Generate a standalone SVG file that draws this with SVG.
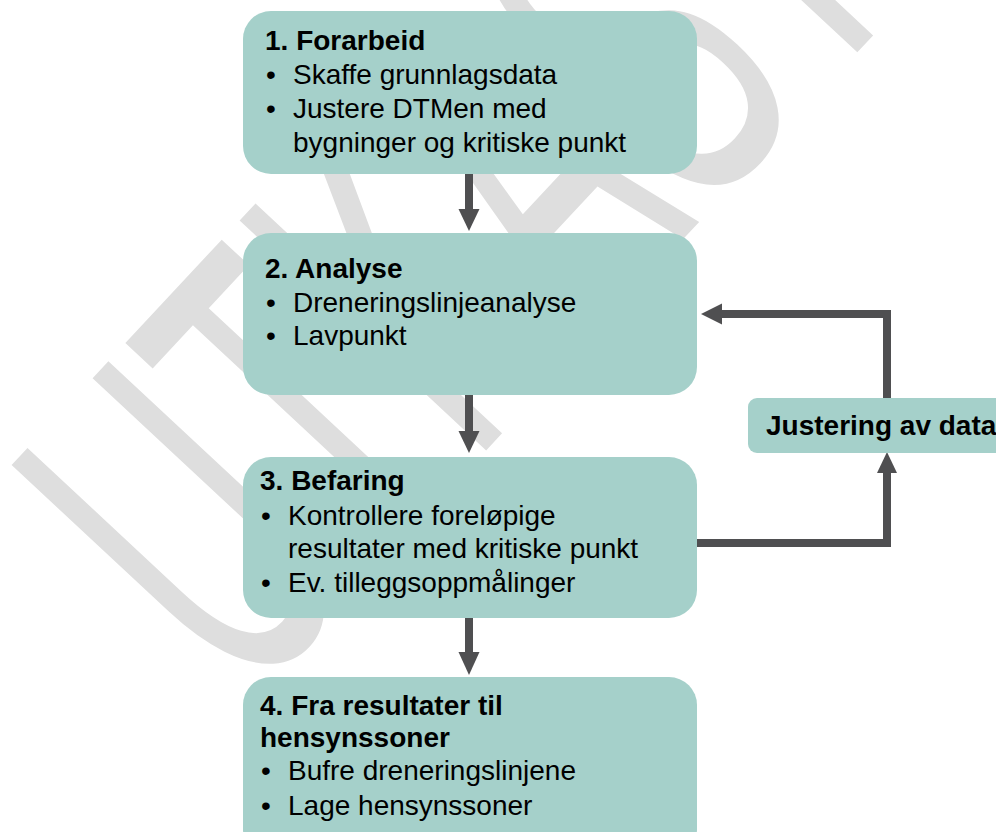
<svg xmlns="http://www.w3.org/2000/svg" width="996" height="832" viewBox="0 0 996 832">
<defs>
<style>
.box{fill:#a5d0ca}
.t{font-family:"Liberation Sans",Arial,sans-serif;font-size:28px;fill:#000}
.b{font-weight:bold}
.wm{font-family:"Liberation Sans",Arial,sans-serif;font-size:490px;fill:#dedede}
.ln{fill:none;stroke:#4f4f51;stroke-width:8}
.hd{fill:#4f4f51}
</style>
</defs>
<rect width="996" height="832" fill="#fff"/>
<g id="watermark">
<text class="wm" transform="translate(245,709) rotate(-47) scale(0.51,1)">UTKAST</text>
</g>
<g id="connectors">
<line class="ln" x1="469" y1="174" x2="469" y2="212"/>
<polygon class="hd" points="458.5,209 479.5,209 469,231"/>
<line class="ln" x1="469" y1="394" x2="469" y2="434"/>
<polygon class="hd" points="458.5,431 479.5,431 469,453"/>
<line class="ln" x1="469" y1="617" x2="469" y2="655"/>
<polygon class="hd" points="458.5,652 479.5,652 469,675"/>
<polyline class="ln" points="697,543 887,543 887,470"/>
<polygon class="hd" points="877,473 897,473 887,452"/>
<polyline class="ln" points="887,398 887,314 719,314"/>
<polygon class="hd" points="722,303.5 722,324.5 701,314"/>
</g>
<g id="n1">
<rect class="box" x="243" y="11" width="454" height="163" rx="28"/>
<text class="t b" x="265" y="50">1. Forarbeid</text>
<text class="t" x="266" y="84">•</text>
<text class="t" x="293" y="84">Skaffe grunnlagsdata</text>
<text class="t" x="266" y="118">•</text>
<text class="t" x="293" y="118">Justere DTMen med</text>
<text class="t" x="293" y="152">bygninger og kritiske punkt</text>
</g>
<g id="n2">
<rect class="box" x="243" y="233" width="454" height="162" rx="28"/>
<text class="t b" x="265" y="278">2. Analyse</text>
<text class="t" x="266" y="312">•</text>
<text class="t" x="293" y="312">Dreneringslinjeanalyse</text>
<text class="t" x="266" y="345">•</text>
<text class="t" x="293" y="345">Lavpunkt</text>
</g>
<g id="n3">
<rect class="box" x="243" y="457" width="454" height="161" rx="28"/>
<text class="t b" x="260" y="490">3. Befaring</text>
<text class="t" x="261" y="525">•</text>
<text class="t" x="288" y="525">Kontrollere foreløpige</text>
<text class="t" x="288" y="558">resultater med kritiske punkt</text>
<text class="t" x="261" y="592">•</text>
<text class="t" x="288" y="592">Ev. tilleggsoppmålinger</text>
</g>
<g id="n4">
<rect class="box" x="243" y="677" width="454" height="180" rx="28"/>
<text class="t b" x="260" y="715">4. Fra resultater til</text>
<text class="t b" x="260" y="747">hensynssoner</text>
<text class="t" x="261" y="780">•</text>
<text class="t" x="288" y="780">Bufre dreneringslinjene</text>
<text class="t" x="261" y="815">•</text>
<text class="t" x="288" y="815">Lage hensynssoner</text>
</g>
<g id="n5">
<rect class="box" x="748" y="398" width="270" height="55" rx="9"/>
<text class="t b" x="766" y="435">Justering av data</text>
</g>
</svg>
